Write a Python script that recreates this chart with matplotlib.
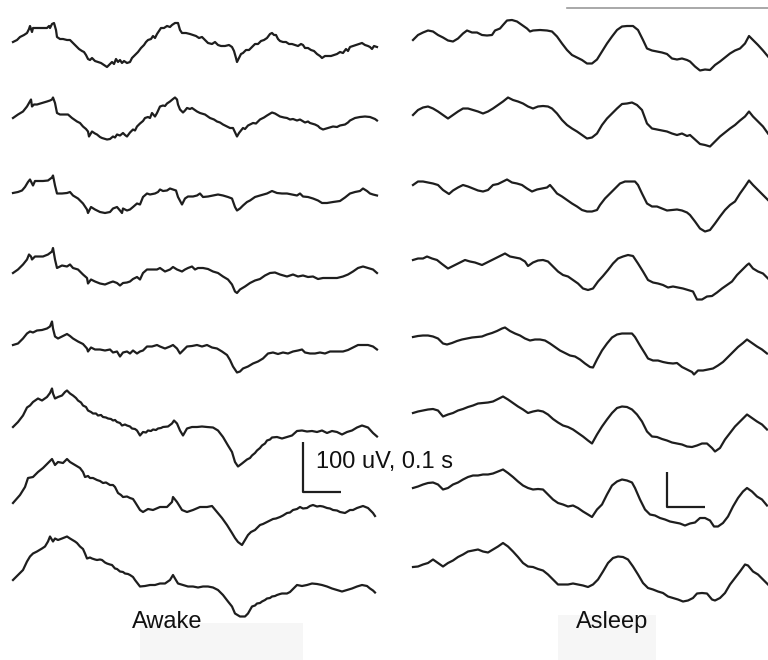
import numpy as np
import matplotlib.pyplot as plt
from matplotlib.patches import Rectangle

plt.rcParams['font.family'] = ['Liberation Sans', 'DejaVu Sans']

FS = 380.0  # samples per second
# traces are (sample, microvolt) pairs, sample 0 = start of the sweep

awake_1 = [(0, 0), (4, 4), (7, 10), (11, 14), (14, 18), (16, 26), (17, 32), (19, 20), (20, 28), (27, 28),
           (34, 28), (36, 32), (37, 28), (39, 36), (41, 38), (43, 24), (44, 10), (47, 6), (50, 6), (54, 4),
           (57, 4), (60, -2), (63, -8), (66, -14), (69, -18), (71, -20), (73, -26), (75, -34), (77, -36),
           (79, -32), (82, -38), (85, -40), (88, -42), (91, -46), (94, -50), (96, -46), (99, -40), (101, -44),
           (103, -34), (105, -40), (107, -36), (109, -42), (111, -38), (114, -42), (117, -40), (119, -32),
           (122, -26), (125, -20), (128, -12), (131, -6), (133, 0), (135, 4), (138, 6), (140, 12), (142, 8),
           (144, 16), (146, 22), (148, 28), (151, 28), (154, 32), (157, 30), (159, 34), (162, 38), (165, 38),
           (167, 24), (169, 18), (173, 18), (177, 16), (180, 14), (183, 12), (186, 8), (189, 10), (192, 4),
           (195, -2), (199, -4), (202, 0), (205, -6), (208, -8), (212, -8), (216, -6), (219, -10), (221, -18),
           (223, -32), (224, -40), (226, -32), (228, -24), (230, -22), (233, -16), (236, -16), (239, -10),
           (242, -4), (245, -4), (248, 2), (251, 4), (254, 8), (257, 16), (259, 18), (261, 14), (263, 14),
           (265, 6), (267, 2), (270, 0), (273, 0), (276, -4), (279, -4), (282, -6), (285, -8), (288, -4),
           (290, -6), (292, -12), (295, -12), (298, -16), (301, -18), (304, -24), (307, -28), (309, -32),
           (312, -28), (315, -28), (318, -28), (321, -26), (324, -24), (327, -20), (330, -22), (333, -14),
           (335, -18), (337, -10), (340, -8), (343, -6), (346, -4), (349, -2), (352, -6), (355, -8), (357, -10),
           (359, -14), (361, -8), (364, -10)]

awake_2 = [(0, 0), (5, 7), (10, 13), (14, 23), (16, 30), (18, 37), (19, 23), (21, 27), (24, 27), (29, 30),
           (34, 33), (37, 35), (39, 37), (40, 41), (42, 30), (44, 10), (47, 7), (52, 7), (55, 7), (59, 0),
           (64, -7), (67, -10), (70, -17), (73, -22), (75, -27), (76, -37), (79, -27), (82, -31), (84, -33),
           (87, -38), (89, -40), (94, -43), (97, -42), (100, -37), (102, -39), (104, -33), (107, -35),
           (110, -30), (112, -34), (114, -37), (117, -29), (120, -23), (122, -25), (124, -17), (127, -11),
           (130, -6), (132, 0), (135, 2), (137, 0), (139, 10), (142, 3), (144, 10), (147, 23), (150, 25),
           (152, 24), (154, 29), (157, 33), (160, 38), (162, 41), (164, 37), (165, 27), (167, 17), (170, 11),
           (172, 15), (174, 20), (177, 18), (179, 20), (184, 13), (187, 10), (192, 7), (197, 0), (201, -3),
           (204, -7), (207, -9), (210, -13), (214, -17), (217, -20), (220, -20), (224, -37), (226, -30),
           (230, -20), (232, -22), (235, -15), (240, -10), (243, -11), (247, -3), (251, 1), (254, 5), (259, 11),
           (262, 9), (267, 3), (271, 1), (274, 0), (277, -3), (280, -2), (284, -5), (287, -3), (292, -9),
           (295, -7), (297, -10), (302, -13), (305, -16), (307, -20), (310, -23), (315, -20), (320, -17),
           (324, -18), (327, -15), (332, -13), (335, -9), (337, -5), (342, 0), (347, 2), (352, 3), (357, 2),
           (362, -2), (364, -5)]

awake_3 = [(0, 0), (5, 2), (9, 5), (12, 12), (15, 22), (17, 27), (19, 19), (20, 15), (22, 24), (25, 24),
           (30, 24), (35, 25), (39, 31), (40, 35), (42, 15), (44, -1), (49, -1), (54, 0), (57, 2), (60, -5),
           (65, -11), (70, -21), (74, -33), (75, -40), (78, -28), (82, -33), (87, -38), (92, -40), (97, -38),
           (100, -31), (104, -28), (107, -35), (109, -40), (110, -31), (114, -35), (117, -33), (120, -28),
           (124, -21), (127, -23), (130, -8), (134, -1), (137, -3), (142, -1), (145, 2), (147, 7), (150, 4),
           (154, 5), (157, 9), (160, 7), (163, 5), (165, -8), (169, -23), (172, -11), (175, -7), (180, -7),
           (184, -5), (187, -1), (190, -8), (195, -7), (200, -5), (205, -3), (210, -5), (215, -8), (219, -11),
           (222, -28), (224, -35), (227, -31), (230, -25), (234, -18), (237, -15), (242, -8), (247, -5),
           (254, -1), (259, 4), (264, 0), (269, -1), (274, -1), (279, -3), (284, -5), (287, -1), (290, -7),
           (295, -8), (300, -11), (305, -15), (309, -20), (314, -20), (320, -18), (327, -16), (332, -9),
           (337, -1), (342, 2), (347, 4), (350, 9), (354, 4), (357, -1), (360, -3), (364, -5)]

awake_4 = [(0, 0), (5, 7), (10, 17), (14, 27), (16, 37), (18, 33), (19, 27), (22, 33), (25, 33), (30, 33),
           (35, 37), (39, 43), (40, 50), (42, 27), (44, 10), (49, 15), (54, 13), (57, 17), (60, 10), (65, 7),
           (70, -3), (74, -10), (75, -21), (78, -13), (82, -17), (87, -21), (92, -23), (97, -19), (100, -17),
           (104, -20), (107, -25), (110, -20), (114, -19), (117, -17), (120, -12), (124, -8), (127, -13),
           (130, 0), (134, 7), (139, 7), (144, 7), (147, 10), (152, 3), (157, 7), (160, 12), (164, 7),
           (169, 3), (172, 7), (175, 10), (179, 13), (182, 7), (185, 10), (190, 10), (195, 8), (200, 3),
           (205, 0), (210, -7), (215, -13), (219, -23), (222, -37), (224, -40), (227, -33), (232, -27),
           (237, -20), (242, -15), (247, -12), (252, -5), (257, 0), (262, 1), (267, -3), (274, -7), (280, -3),
           (285, -7), (290, -5), (295, -8), (300, -7), (305, -12), (310, -10), (317, -10), (324, -10),
           (330, -7), (335, -3), (340, 3), (345, 10), (350, 13), (355, 10), (360, 7), (364, 0)]

awake_5 = [(0, 0), (5, 3), (10, 13), (14, 23), (17, 27), (20, 25), (24, 29), (29, 30), (34, 33), (37, 37),
           (39, 47), (40, 33), (42, 17), (45, 13), (50, 18), (54, 22), (57, 18), (60, 13), (65, 7), (70, 2),
           (74, -7), (75, -13), (78, -5), (82, -9), (87, -9), (92, -11), (97, -9), (100, -15), (104, -13),
           (107, -23), (110, -15), (114, -13), (117, -17), (120, -11), (124, -17), (127, -13), (130, -11),
           (134, -3), (139, -3), (144, 0), (147, -3), (152, -7), (157, -3), (160, 0), (164, -7), (167, -17),
           (170, -11), (174, -3), (179, -2), (184, 0), (189, -3), (194, 0), (199, -5), (204, -7), (209, -13),
           (214, -20), (217, -30), (220, -43), (224, -55), (227, -53), (230, -47), (235, -43), (240, -37),
           (245, -33), (250, -27), (255, -17), (260, -15), (265, -18), (270, -15), (275, -17), (280, -13),
           (285, -11), (289, -9), (292, -15), (297, -17), (302, -17), (307, -15), (312, -17), (317, -13),
           (324, -13), (330, -13), (335, -10), (340, -5), (345, 0), (350, 0), (355, 0), (360, -3), (364, -9)]

awake_6 = [(0, 0), (5, 10), (10, 23), (14, 39), (17, 43), (20, 50), (25, 57), (29, 53), (34, 60), (37, 68),
           (39, 77), (40, 67), (42, 57), (45, 60), (49, 63), (52, 70), (54, 73), (57, 67), (60, 63), (63, 58),
           (65, 53), (68, 49), (70, 43), (73, 40), (75, 33), (78, 30), (80, 27), (83, 27), (85, 23), (88, 24),
           (90, 20), (93, 19), (95, 17), (98, 16), (100, 13), (102, 14), (104, 10), (107, 8), (109, 3),
           (112, 5), (114, 3), (117, 1), (119, -3), (122, -4), (124, -7), (127, -17), (130, -10), (133, -11),
           (135, -7), (138, -8), (140, -5), (143, -6), (145, -3), (148, -2), (150, 0), (155, 1), (159, 7),
           (161, 13), (164, 7), (167, -7), (170, -17), (174, -3), (179, 0), (184, 0), (189, 1), (194, 0),
           (200, -1), (205, -7), (210, -20), (215, -37), (219, -50), (222, -70), (225, -79), (229, -73),
           (234, -65), (237, -62), (239, -57), (242, -52), (244, -47), (247, -42), (249, -37), (252, -33),
           (254, -27), (257, -25), (259, -21), (264, -20), (269, -23), (274, -20), (279, -17), (284, -8),
           (289, -7), (294, -9), (299, -8), (304, -10), (309, -7), (314, -12), (319, -8), (324, -10),
           (329, -15), (334, -10), (339, -7), (344, -1), (349, 3), (352, 1), (355, -1), (360, -12), (364, -19)]

awake_7 = [(0, 0), (7, 16), (12, 32), (15, 50), (20, 52), (25, 62), (30, 70), (35, 80), (39, 88), (42, 76),
           (45, 82), (50, 80), (54, 88), (57, 82), (62, 76), (67, 70), (70, 62), (72, 52), (75, 54), (77, 50),
           (80, 50), (84, 46), (87, 44), (90, 40), (93, 41), (97, 36), (100, 36), (102, 32), (105, 20),
           (108, 16), (110, 12), (114, 13), (117, 10), (120, 8), (122, 2), (127, -14), (130, -18), (135, -12),
           (140, -14), (147, -8), (154, -8), (159, 2), (160, 12), (164, 2), (169, -14), (174, -18), (180, -14),
           (187, -8), (194, -8), (199, -6), (204, -18), (209, -30), (214, -44), (219, -60), (222, -70),
           (225, -78), (229, -84), (232, -74), (235, -64), (238, -58), (242, -54), (245, -48), (247, -44),
           (250, -42), (254, -38), (257, -35), (260, -32), (263, -31), (267, -28), (270, -25), (274, -20),
           (277, -19), (280, -14), (284, -12), (287, -8), (290, -11), (294, -10), (297, -6), (300, -4),
           (304, -7), (307, -6), (310, -7), (314, -10), (317, -11), (320, -14), (324, -15), (327, -18),
           (332, -20), (337, -14), (340, -14), (344, -10), (347, -8), (350, -6), (355, -10), (360, -20),
           (362, -26)]

awake_8 = [(0, 0), (5, 10), (10, 20), (14, 37), (17, 47), (20, 53), (24, 57), (29, 63), (32, 67), (35, 77),
           (37, 87), (40, 77), (42, 83), (45, 80), (49, 83), (54, 87), (57, 83), (62, 77), (64, 74), (67, 67),
           (70, 62), (72, 53), (74, 43), (77, 45), (79, 43), (82, 41), (84, 40), (87, 41), (89, 40), (92, 35),
           (94, 33), (97, 31), (99, 30), (102, 23), (104, 22), (107, 17), (110, 16), (112, 13), (115, 12),
           (117, 10), (120, 6), (122, 0), (127, -13), (132, -12), (137, -10), (142, -10), (147, -7),
           (152, -7), (157, 0), (160, 10), (162, 3), (165, -7), (170, -10), (175, -13), (180, -13), (185, -15),
           (190, -13), (195, -13), (200, -15), (205, -20), (210, -30), (215, -43), (219, -53), (222, -67),
           (227, -73), (232, -73), (235, -67), (239, -53), (242, -51), (244, -47), (247, -46), (249, -43),
           (252, -40), (254, -37), (257, -36), (259, -33), (262, -32), (264, -30), (267, -28), (269, -27),
           (274, -27), (277, -24), (279, -20), (282, -14), (284, -10), (289, -12), (294, -10), (299, -7),
           (304, -8), (309, -10), (314, -13), (319, -17), (324, -20), (329, -23), (334, -20), (339, -17),
           (344, -13), (349, -10), (354, -12), (357, -17), (360, -21), (362, -25)]

asleep_1 = [(0, 0), (5, 10), (10, 15), (15, 19), (20, 17), (25, 10), (30, 5), (35, -1), (40, -3), (45, 3),
            (50, 13), (54, 19), (59, 15), (64, 15), (69, 10), (74, 9), (79, 10), (82, 19), (87, 23), (90, 30),
            (94, 39), (99, 40), (104, 37), (109, 30), (114, 23), (117, 17), (120, 19), (127, 20), (134, 19),
            (139, 17), (144, 7), (149, -7), (154, -20), (159, -30), (164, -35), (169, -40), (174, -47),
            (179, -47), (184, -39), (189, -23), (194, -7), (199, 7), (204, 20), (209, 27), (214, 28),
            (220, 28), (225, 20), (230, 0), (234, -17), (239, -21), (244, -23), (249, -25), (254, -28),
            (259, -37), (264, -39), (269, -37), (274, -40), (277, -43), (282, -53), (287, -61), (292, -59),
            (297, -60), (302, -50), (307, -43), (312, -35), (317, -27), (322, -21), (327, -17), (332, -7),
            (336, 8), (340, 0), (345, -10), (350, -21), (355, -33)]

asleep_2 = [(0, 0), (5, 10), (10, 15), (15, 17), (20, 13), (25, 7), (30, 0), (35, -7), (40, 0), (45, 7),
            (50, 13), (55, 13), (60, 10), (65, 7), (70, 3), (75, 7), (80, 13), (85, 20), (90, 27), (95, 35),
            (100, 30), (105, 27), (110, 23), (115, 17), (120, 13), (125, 17), (130, 18), (135, 17), (139, 13),
            (144, 3), (149, -10), (154, -20), (159, -27), (164, -33), (169, -40), (174, -47), (179, -45),
            (184, -37), (189, -20), (194, -7), (199, 3), (204, 13), (209, 22), (214, 23), (219, 25), (224, 20),
            (229, 10), (234, -17), (239, -27), (244, -29), (249, -31), (254, -33), (259, -37), (264, -40),
            (269, -37), (274, -42), (277, -40), (282, -49), (287, -58), (292, -60), (297, -63), (302, -53),
            (307, -43), (312, -35), (317, -27), (322, -20), (327, -11), (332, -3), (336, 7), (340, -3),
            (345, -13), (350, -23), (355, -37)]

asleep_3 = [(0, 0), (5, 7), (10, 7), (15, 5), (20, 3), (25, 0), (30, -10), (36, -18), (40, -11), (45, -5),
            (50, 0), (55, -3), (60, -7), (65, -11), (70, -13), (75, -10), (80, 0), (85, 2), (90, 7), (94, 11),
            (99, 5), (104, 3), (109, 0), (114, -7), (119, -13), (124, -9), (129, -7), (134, -5), (137, 0),
            (140, -7), (144, -17), (149, -23), (154, -30), (159, -37), (164, -43), (169, -50), (174, -53),
            (179, -53), (184, -50), (187, -40), (192, -27), (197, -17), (202, -7), (207, 3), (212, 7), (217, 7),
            (222, 7), (225, 0), (229, -17), (234, -37), (239, -43), (244, -43), (249, -47), (254, -51),
            (259, -50), (264, -49), (269, -51), (274, -55), (277, -60), (282, -73), (287, -87), (292, -93),
            (297, -90), (302, -77), (307, -63), (312, -50), (317, -40), (322, -33), (327, -17), (332, -3),
            (336, 9), (340, 0), (345, -10), (350, -20), (355, -30)]

asleep_4 = [(0, 0), (5, 3), (10, 3), (14, 7), (19, 3), (24, 0), (29, -8), (35, -17), (40, -12), (45, -7),
            (52, 0), (57, -3), (62, -5), (69, -10), (74, -5), (79, 0), (84, 5), (89, 10), (92, 13), (97, 7),
            (102, 5), (107, 3), (112, -3), (115, -12), (120, -5), (125, -1), (130, 0), (135, -3), (140, -13),
            (145, -23), (150, -30), (155, -33), (160, -40), (165, -47), (170, -57), (175, -60), (180, -57),
            (185, -43), (190, -32), (195, -20), (200, -7), (205, 3), (210, 7), (215, 10), (220, 8), (225, -7),
            (230, -23), (235, -40), (240, -45), (245, -47), (250, -50), (255, -55), (260, -53), (265, -55),
            (270, -57), (275, -60), (280, -63), (284, -79), (289, -79), (294, -73), (299, -72), (304, -65),
            (309, -57), (314, -50), (319, -43), (324, -30), (329, -20), (334, -10), (336, -7), (340, -17),
            (345, -23), (350, -27), (355, -37)]

asleep_5 = [(0, 0), (5, 2), (10, 3), (15, 3), (20, 1), (25, -3), (30, -13), (34, -15), (39, -12), (44, -8),
            (49, -5), (54, -3), (59, -1), (64, 0), (69, 1), (74, 5), (79, 8), (84, 12), (89, 17), (92, 19),
            (97, 12), (102, 7), (107, 3), (112, -3), (117, -7), (122, -5), (127, -5), (132, -7), (137, -13),
            (142, -20), (147, -27), (152, -32), (157, -37), (162, -39), (167, -45), (172, -53), (177, -60),
            (180, -61), (184, -45), (189, -27), (194, -13), (199, -1), (204, 5), (209, 7), (214, 7), (219, 7),
            (222, 0), (227, -17), (232, -33), (235, -43), (240, -47), (245, -47), (250, -50), (255, -52),
            (260, -53), (264, -52), (269, -60), (274, -65), (279, -70), (281, -75), (285, -67), (290, -67),
            (295, -65), (300, -63), (305, -57), (310, -50), (315, -40), (320, -30), (325, -20), (330, -12),
            (334, -5), (339, -12), (344, -19), (349, -25), (354, -33)]

asleep_6 = [(0, 0), (5, 3), (10, 5), (15, 7), (20, 8), (25, 5), (30, -7), (35, -3), (40, 0), (45, 5),
            (50, 8), (55, 12), (60, 15), (65, 19), (70, 20), (75, 21), (80, 23), (85, 28), (90, 33), (95, 27),
            (100, 20), (105, 13), (110, 7), (115, 0), (120, 3), (125, 5), (130, 3), (135, -3), (140, -12),
            (145, -19), (150, -25), (155, -28), (160, -33), (165, -40), (170, -47), (175, -55), (179, -61),
            (184, -43), (189, -27), (194, -13), (199, 0), (204, 10), (209, 13), (214, 12), (219, 7), (224, -3),
            (229, -17), (234, -37), (239, -47), (244, -48), (249, -52), (254, -55), (259, -59), (264, -61),
            (269, -63), (274, -67), (279, -68), (284, -65), (289, -61), (294, -61), (299, -70), (302, -77),
            (307, -70), (312, -53), (317, -40), (322, -27), (327, -17), (334, -3), (339, -10), (344, -17),
            (349, -23), (354, -33)]

asleep_7 = [(0, 0), (5, 3), (10, 7), (15, 10), (20, 11), (25, 7), (30, -3), (35, 0), (40, 7), (45, 11),
            (50, 17), (55, 22), (60, 25), (65, 25), (70, 27), (75, 27), (80, 29), (85, 33), (90, 37), (95, 30),
            (100, 22), (105, 13), (110, 5), (115, 0), (120, -3), (125, -2), (130, -3), (135, -13), (140, -23),
            (145, -30), (150, -33), (155, -37), (160, -35), (165, -40), (170, -47), (175, -53), (179, -58),
            (184, -43), (189, -33), (194, -13), (199, 5), (204, 13), (209, 17), (214, 15), (219, 11), (222, 0),
            (227, -23), (232, -43), (237, -53), (242, -55), (247, -60), (252, -63), (257, -67), (262, -69),
            (267, -71), (272, -75), (277, -71), (282, -69), (287, -60), (292, -60), (297, -65), (301, -77),
            (305, -77), (310, -70), (315, -57), (320, -37), (325, -20), (330, -7), (334, 0), (339, -7),
            (344, -17), (349, -23), (354, -35)]

asleep_8 = [(0, 0), (5, 1), (10, 5), (15, 8), (20, 15), (25, 8), (30, 1), (35, 8), (40, 13), (45, 20),
            (50, 25), (55, 31), (60, 33), (65, 35), (70, 31), (75, 29), (80, 35), (85, 41), (90, 48), (95, 41),
            (100, 31), (105, 20), (110, 8), (115, 1), (120, 0), (125, -4), (130, -7), (135, -15), (140, -25),
            (145, -35), (150, -35), (155, -35), (160, -33), (165, -35), (170, -37), (175, -40), (180, -35),
            (185, -25), (190, -9), (195, 8), (200, 18), (205, 21), (210, 20), (215, 15), (220, 1), (225, -15),
            (230, -32), (235, -42), (240, -45), (245, -49), (250, -52), (255, -59), (260, -62), (265, -65),
            (270, -69), (275, -67), (280, -62), (284, -53), (289, -52), (294, -53), (299, -65), (302, -67),
            (307, -62), (312, -52), (317, -35), (322, -22), (327, -9), (332, 5), (335, 3), (340, -9),
            (345, -15), (350, -25), (355, -35)]

awake_traces = [awake_1, awake_2, awake_3, awake_4, awake_5, awake_6, awake_7, awake_8]
asleep_traces = [asleep_1, asleep_2, asleep_3, asleep_4, asleep_5, asleep_6, asleep_7, asleep_8]

# scale bars (uV, s)
awake_bar = (100, 0.1)
asleep_bar = (70, 0.1)

# --- layout: the canvas is laid out in seconds (x) and microvolts (y) ---
W_S, H_UV = 768 / FS, 1320.0
AWAKE_X0, ASLEEP_X0 = 13 / FS, 413 / FS
awake_rows = [-84, -236, -386, -546, -690, -854, -1006, -1160]
asleep_rows = [-80, -230, -370, -520, -674, -826, -976, -1134]

fig = plt.figure(figsize=(7.68, 6.6), dpi=100)
ax = fig.add_axes([0, 0, 1, 1])
ax.set_xlim(0, W_S)
ax.set_ylim(-H_UV, 0)
ax.axis('off')

ink = '#1e1e1e'


def draw_panel(traces, rows, x0):
    for tr, row in zip(traces, rows):
        t, v = np.array(tr, dtype=float).T
        ax.plot(x0 + t / FS, row + v, color=ink, lw=1.6, solid_joinstyle='round')


draw_panel(awake_traces, awake_rows, AWAKE_X0)
draw_panel(asleep_traces, asleep_rows, ASLEEP_X0)


def scale_bar(x, y, size):
    uv, sec = size
    ax.plot([x, x, x + sec], [y + uv, y, y], color=ink, lw=1.6, solid_capstyle='butt')


scale_bar(303 / FS, -984, awake_bar)
scale_bar(667 / FS, -1014, asleep_bar)
ax.text(316 / FS, -924, '%d uV, %g s' % awake_bar, fontsize=17, va='center', ha='left', color='#111')

# faint paper patches under the labels and the edge line at the top
ax.add_patch(Rectangle((140 / FS, -H_UV), 163 / FS, 74, color='#f6f6f6', lw=0, zorder=0))
ax.add_patch(Rectangle((558 / FS, -H_UV), 98 / FS, 90, color='#f6f6f6', lw=0, zorder=0))
ax.plot([567 / FS, W_S], [-15, -15], color='#9a9a9a', lw=1.2)

ax.text(167 / FS, -1244, 'Awake', fontsize=17, ha='center', va='center', color='#111')
ax.text(612 / FS, -1244, 'Asleep', fontsize=17, ha='center', va='center', color='#111')

fig.savefig('out.png', dpi=100)
